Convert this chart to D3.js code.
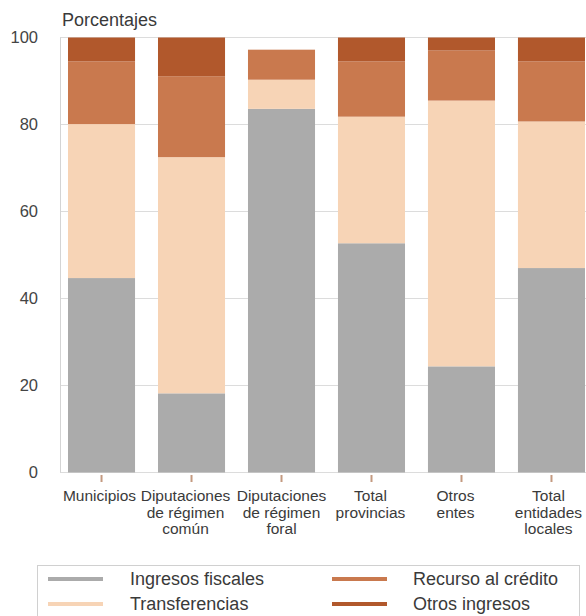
<!DOCTYPE html>
<html>
<head>
<meta charset="utf-8">
<script src="https://cdn.jsdelivr.net/npm/d3@7"></script>
<style>
  body { margin: 0; background: #fff; }
  text { font-family: "Liberation Sans", Arial, sans-serif; fill: #3a3a3a; }
</style>
</head>
<body>
<svg id="chart" width="586" height="616"></svg>
<script>
// categories (split in lines as in the original)
const categories = ["Municipios", "Dip. común", "Dip. foral", "Total provincias", "Otros entes", "Total entidades locales"];
const categoryLines = [
    ["Municipios"],
    ["Diputaciones", "de régimen", "común"],
    ["Diputaciones", "de régimen", "foral"],
    ["Total", "provincias"],
    ["Otros", "entes"],
    ["Total", "entidades", "locales"]
];

// series values (percentages)
const ingresosFiscales = [44.7, 18.2, 83.6, 52.7, 24.4, 47.0];
const transferencias   = [35.4, 54.3, 6.7, 29.1, 61.1, 33.7];
const recursoCredito   = [14.4, 18.6, 6.9, 12.7, 11.5, 13.8];
const otrosIngresos    = [5.5, 8.9, 0, 5.5, 3.0, 5.5];

const seriesNames = ["Ingresos fiscales", "Transferencias", "Recurso al crédito", "Otros ingresos"];
const yTicks = [0, 20, 40, 60, 80, 100];

const colors = {
    "Ingresos fiscales": "#ababab",
    "Transferencias": "#f7d4b6",
    "Recurso al crédito": "#c9794e",
    "Otros ingresos": "#b1582c"
};

// labels in the original sit a little left of the bar centres
const labelNudge = [-2, -6, 0, -1, -6, -3];

const svg = d3.select("#chart");

// build table for the stack
const table = categories.map((c, i) => ({
    cat: c,
    "Ingresos fiscales": ingresosFiscales[i],
    "Transferencias": transferencias[i],
    "Recurso al crédito": recursoCredito[i],
    "Otros ingresos": otrosIngresos[i]
}));

const x = d3.scaleBand()
    .domain(categories)
    .range([68, 585])
    .paddingInner(0.255)
    .paddingOuter(0);

const y = d3.scaleLinear()
    .domain([0, 100])
    .range([472.5, 37.5]);

// gridlines
svg.append("g")
    .selectAll("line")
    .data(yTicks)
    .join("line")
    .attr("x1", 60)
    .attr("x2", 586)
    .attr("y1", d => y(d))
    .attr("y2", d => y(d))
    .attr("stroke", "#dcdcdc")
    .attr("stroke-width", 1);

// left axis line
svg.append("line")
    .attr("x1", 60.5).attr("x2", 60.5)
    .attr("y1", y(100)).attr("y2", y(0))
    .attr("stroke", "#d4d4d4");

// y tick labels
svg.append("g")
    .selectAll("text")
    .data(yTicks)
    .join("text")
    .attr("x", 38)
    .attr("y", d => y(d))
    .attr("dy", "0.35em")
    .attr("text-anchor", "end")
    .style("font-size", "16.5px")
    .style("fill", "#444")
    .text(d => d);

svg.append("text")
    .attr("x", 62)
    .attr("y", 26)
    .style("font-size", "18px")
    .text("Porcentajes");

// stacked bars
const stack = d3.stack().keys(seriesNames);
const layers = stack(table);

svg.append("g")
    .selectAll("g")
    .data(layers)
    .join("g")
    .attr("fill", d => colors[d.key])
    .selectAll("rect")
    .data(d => d)
    .join("rect")
    .attr("x", d => x(d.data.cat))
    .attr("y", d => y(d[1]))
    .attr("width", x.bandwidth())
    .attr("height", d => y(d[0]) - y(d[1]));

// small ticks under each bar
svg.append("g")
    .selectAll("line")
    .data(categories)
    .join("line")
    .attr("x1", d => x(d) + x.bandwidth() / 2)
    .attr("x2", d => x(d) + x.bandwidth() / 2)
    .attr("y1", 475)
    .attr("y2", 482)
    .attr("stroke", "#c49a80")
    .attr("stroke-width", 2);

// category labels
const labels = svg.append("g")
    .selectAll("text")
    .data(categories)
    .join("text")
    .attr("text-anchor", "middle")
    .style("font-size", "15.5px");

labels.each(function(d, i) {
    const t = d3.select(this);
    categoryLines[i].forEach((line, j) => {
        t.append("tspan")
            .attr("x", x(d) + x.bandwidth() / 2 + labelNudge[i])
            .attr("y", 501 + j * 16.5)
            .text(line);
    });
});

// legend
svg.append("rect")
    .attr("x", 37.5)
    .attr("y", 565.5)
    .attr("width", 542)
    .attr("height", 60)
    .attr("fill", "none")
    .attr("stroke", "#d0d0d0");

const legendPos = [
    { sx: 48, tx: 130, y: 579 },
    { sx: 48, tx: 130, y: 604 },
    { sx: 332, tx: 413, y: 579 },
    { sx: 332, tx: 413, y: 604 }
];

const legend = svg.append("g")
    .selectAll("g")
    .data(seriesNames)
    .join("g");

legend.append("rect")
    .attr("x", (d, i) => legendPos[i].sx)
    .attr("y", (d, i) => legendPos[i].y - 2)
    .attr("width", 55)
    .attr("height", 4)
    .attr("fill", d => colors[d]);

legend.append("text")
    .attr("x", (d, i) => legendPos[i].tx)
    .attr("y", (d, i) => legendPos[i].y)
    .attr("dy", "0.35em")
    .style("font-size", "18px")
    .text(d => d);
</script>
</body>
</html>
